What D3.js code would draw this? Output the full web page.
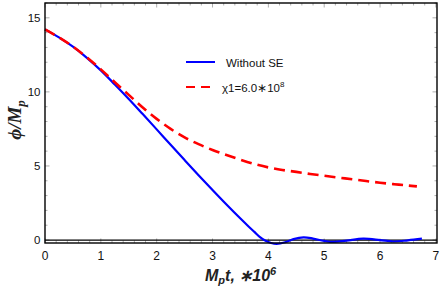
<!DOCTYPE html>
<html>
<head>
<meta charset="utf-8">
<script src="https://cdn.jsdelivr.net/npm/d3@7"></script>
<style>
  body { margin: 0; background: #fff; }
  text { font-family: Arial, "Liberation Sans", sans-serif; }
</style>
</head>
<body>
<div id="chart"></div>
<script>
var w = 442, h = 289;

// blue: without SE
var blueX = [0, 0.25, 0.5, 0.75, 1.0, 1.25, 1.5, 1.75, 2.0, 2.25, 2.5, 2.75, 3.0, 3.25, 3.5, 3.65, 3.75, 3.85, 3.95, 4.05, 4.15, 4.3, 4.45, 4.63, 4.8, 5.0, 5.17, 5.4, 5.7, 6.0, 6.24, 6.5, 6.75];
var blueY = [14.22, 13.68, 13.05, 12.3, 11.45, 10.5, 9.52, 8.5, 7.47, 6.43, 5.4, 4.38, 3.38, 2.4, 1.45, 0.9, 0.55, 0.2, -0.05, -0.2, -0.26, -0.15, 0.06, 0.18, 0.1, -0.06, -0.13, -0.04, 0.09, 0.0, -0.1, -0.02, 0.09];

// red dashed: chi1 = 6.0*10^8
var redX = [0, 0.25, 0.5, 0.75, 1.0, 1.25, 1.5, 1.75, 2.0, 2.25, 2.5, 2.75, 3.0, 3.25, 3.5, 3.75, 4.0, 4.25, 4.5, 4.75, 5.0, 5.25, 5.5, 5.75, 6.0, 6.25, 6.5, 6.66];
var redY = [14.22, 13.68, 13.06, 12.33, 11.52, 10.65, 9.8, 8.95, 8.18, 7.5, 6.93, 6.47, 6.08, 5.74, 5.42, 5.13, 4.9, 4.73, 4.6, 4.46, 4.34, 4.22, 4.1, 3.98, 3.87, 3.77, 3.68, 3.62];

var xTicks = [0, 1, 2, 3, 4, 5, 6, 7];
var yTicks = [0, 5, 10, 15];

var fLeft = 45, fRight = 437, fTop = 3, fBottom = 243;

var svg = d3.select('#chart').append('svg')
  .attr('width', w).attr('height', h);

var x = d3.scaleLinear().domain([0, 7.02]).range([fLeft, fRight]);
var y = d3.scaleLinear().domain([-0.2, 16]).range([fBottom, fTop]);

// minor ticks
var xMinor = d3.range(0, 7.01, 0.2).filter(v => Math.abs(v - Math.round(v)) > 1e-6);
var yMinor = d3.range(0, 16.01, 1).filter(v => v % 5 != 0);

var ticks = svg.append('g').attr('stroke', '#999').attr('stroke-width', 0.8);
xTicks.forEach(v => {
  ticks.append('line').attr('x1', x(v)).attr('x2', x(v)).attr('y1', fBottom).attr('y2', fBottom - 4.5);
  ticks.append('line').attr('x1', x(v)).attr('x2', x(v)).attr('y1', fTop).attr('y2', fTop + 4.5);
});
xMinor.forEach(v => {
  ticks.append('line').attr('x1', x(v)).attr('x2', x(v)).attr('y1', fBottom).attr('y2', fBottom - 2.5);
  ticks.append('line').attr('x1', x(v)).attr('x2', x(v)).attr('y1', fTop).attr('y2', fTop + 2.5);
});
yTicks.forEach(v => {
  ticks.append('line').attr('y1', y(v)).attr('y2', y(v)).attr('x1', fLeft).attr('x2', fLeft + 4.5);
  ticks.append('line').attr('y1', y(v)).attr('y2', y(v)).attr('x1', fRight).attr('x2', fRight - 4.5);
});
yMinor.forEach(v => {
  ticks.append('line').attr('y1', y(v)).attr('y2', y(v)).attr('x1', fLeft).attr('x2', fLeft + 2.5);
  ticks.append('line').attr('y1', y(v)).attr('y2', y(v)).attr('x1', fRight).attr('x2', fRight - 2.5);
});

// tick labels
svg.append('g').selectAll('text').data(xTicks).join('text')
  .attr('x', d => x(d)).attr('y', 260)
  .attr('text-anchor', 'middle').attr('font-size', 12).attr('fill', '#111')
  .text(d => d);
svg.append('g').selectAll('text').data(yTicks).join('text')
  .attr('x', fLeft - 4.5).attr('y', d => y(d)).attr('dy', '0.36em')
  .attr('text-anchor', 'end').attr('font-size', 11.5).attr('fill', '#111')
  .text(d => d);

// zero line
svg.append('line')
  .attr('x1', fLeft).attr('x2', fRight).attr('y1', y(0)).attr('y2', y(0))
  .attr('stroke', '#000').attr('stroke-width', 1.3);

var line = d3.line()
  .x(d => x(d[0])).y(d => y(d[1]))
  .curve(d3.curveCatmullRom.alpha(0.5));

svg.append('path')
  .datum(blueX.map((v, i) => [v, blueY[i]]))
  .attr('d', line).attr('fill', 'none')
  .attr('stroke', '#0000ff').attr('stroke-width', 2.2);

svg.append('path')
  .datum(redX.map((v, i) => [v, redY[i]]))
  .attr('d', line).attr('fill', 'none')
  .attr('stroke', '#ff0000').attr('stroke-width', 2.6)
  .attr('stroke-dasharray', '11,6');

// frame
svg.append('rect')
  .attr('x', fLeft).attr('y', fTop).attr('width', fRight - fLeft).attr('height', fBottom - fTop)
  .attr('fill', 'none').attr('stroke', '#000').attr('stroke-width', 1.4);

// legend
svg.append('line').attr('x1', 186).attr('x2', 215).attr('y1', 62).attr('y2', 62)
  .attr('stroke', '#0000ff').attr('stroke-width', 2);
svg.append('text').attr('x', 226).attr('y', 66.5).attr('font-size', 11.5).attr('fill', '#111')
  .text('Without SE');
svg.append('line').attr('x1', 186).attr('x2', 215).attr('y1', 87).attr('y2', 87)
  .attr('stroke', '#ff0000').attr('stroke-width', 2).attr('stroke-dasharray', '9,6');
var lg = svg.append('text').attr('x', 222).attr('y', 91.5).attr('font-size', 11.5).attr('fill', '#111');
lg.append('tspan').text('χ1=6.0∗10');
lg.append('tspan').attr('font-size', 8).attr('dy', -5).text('8');

// axis labels
var xl = svg.append('text').attr('x', 205).attr('y', 281)
  .attr('font-size', 16).attr('font-weight', 'bold').attr('font-style', 'italic').attr('fill', '#222');
xl.append('tspan').text('M');
xl.append('tspan').attr('font-size', 11).attr('dy', 3).text('p');
xl.append('tspan').attr('dy', -3).text('t, ∗10');
xl.append('tspan').attr('font-size', 11).attr('dy', -6).text('6');

var yl = svg.append('text')
  .attr('transform', 'translate(21,' + 120 + ') rotate(-90)')
  .attr('text-anchor', 'middle')
  .style('font-family', '"Liberation Serif", "DejaVu Serif", serif')
  .attr('font-size', 19).attr('font-weight', 'bold').attr('font-style', 'italic').attr('fill', '#222');
yl.append('tspan').text('ϕ/M');
yl.append('tspan').attr('font-size', 13).attr('dy', 4).text('p');
</script>
</body>
</html>
